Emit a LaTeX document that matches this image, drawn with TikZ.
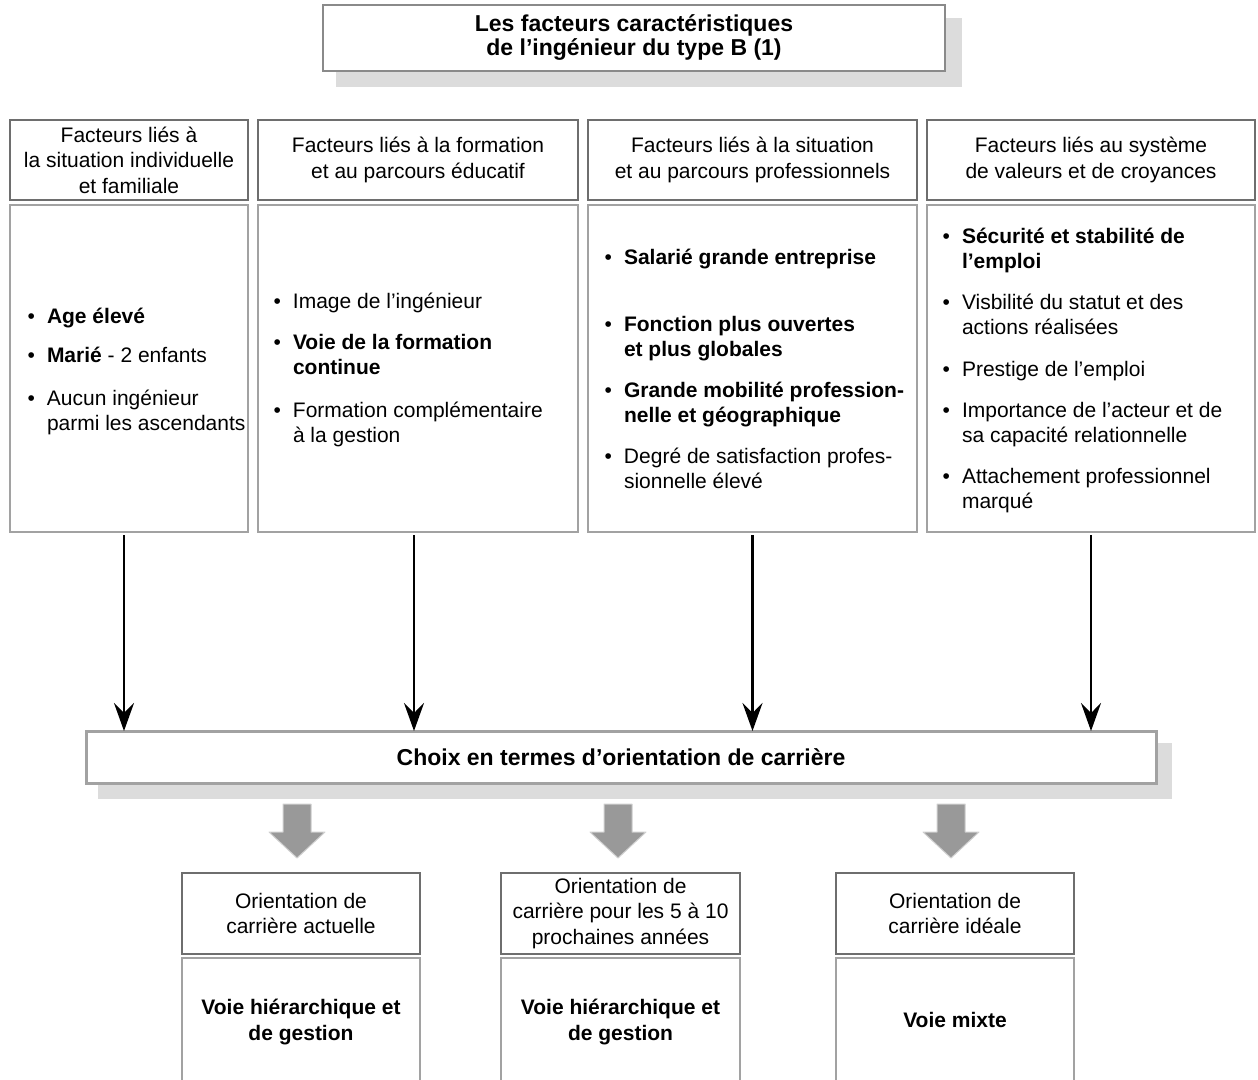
\documentclass[tikz,border=0pt]{standalone}
\usepackage{fontspec}
\setmainfont{Liberation Sans}
\usetikzlibrary{arrows.meta,calc}
\definecolor{hdrline}{HTML}{6E6E6E}
\definecolor{bodyline}{HTML}{A2A2A2}
\definecolor{titleline}{HTML}{8A8A8A}
\definecolor{shadowgray}{HTML}{DCDCDC}
\definecolor{blockgray}{HTML}{999999}
\definecolor{blockedge}{HTML}{CFCFCF}
\newcommand\mybul[4]{\node[itm,anchor=base west] (#1) at (#2,#3) {\llap{•\hspace{12pt}}\begin{tabular}[t]{@{}l@{}}#4\end{tabular}};}
\begin{document}
\begin{tikzpicture}[x=1pt,y=-1pt,
  every node/.style={inner sep=0pt,outer sep=0pt},
  txt/.style={font=\fontsize{21}{25.5}\selectfont},
  hdrbox/.style={draw=hdrline,line width=2.5pt,fill=white,anchor=north west,align=center,txt},
  bodybox/.style={draw=bodyline,line width=2.5pt,fill=white,anchor=north west,align=center,txt},
  titlebox/.style={draw=titleline,line width=2.5pt,fill=white,anchor=north west,align=center,font=\bfseries\fontsize{23}{24}\selectfont},
  choicebox/.style={draw=bodyline,line width=3pt,fill=white,anchor=north west,align=center,font=\bfseries\fontsize{23}{25}\selectfont},
  itm/.style={txt,align=left},
  arr/.style={draw=black,line width=2.4pt,-{Stealth[length=28pt,width=20pt,inset=10pt]}},
  blk/.style={fill=blockgray,draw=blockedge,line width=1pt,line join=round}
]
\useasboundingbox (0,0) rectangle (1258,1079);
\clip (0,0) rectangle (1258,1079);

% title
\fill[shadowgray] (336,18) rectangle (962,87);
\node[titlebox,minimum width=622pt,minimum height=66pt] (title) at (323,5)
  {Les facteurs caractéristiques\\de l’ingénieur du type B (1)};

% column headers
\node[hdrbox,minimum width=238pt,minimum height=80pt] (h1) at (10,120)
  {Facteurs liés à\\la situation individuelle\\et familiale};
\node[hdrbox,minimum width=320pt,minimum height=80pt] (h2) at (258,120)
  {Facteurs liés à la formation\\et au parcours éducatif};
\node[hdrbox,minimum width=329pt,minimum height=80pt] (h3) at (588,120)
  {Facteurs liés à la situation\\et au parcours professionnels};
\node[hdrbox,minimum width=328pt,minimum height=80pt] (h4) at (927,120)
  {Facteurs liés au système\\de valeurs et de croyances};

% column bodies
\node[bodybox,minimum width=238pt,minimum height=327pt] (b1) at (10,205) {};
\node[bodybox,minimum width=320pt,minimum height=327pt] (b2) at (258,205) {};
\node[bodybox,minimum width=329pt,minimum height=327pt] (b3) at (588,205) {};
\node[bodybox,minimum width=328pt,minimum height=327pt] (b4) at (927,205) {};

% column 1 items
\mybul{a1}{47}{323}{\textbf{Age élevé}}
\mybul{a2}{47}{362}{\textbf{Marié} - 2 enfants}
\mybul{a3}{47}{405}{Aucun ingénieur\\parmi les ascendants}

% column 2 items
\mybul{c1}{293}{308}{Image de l’ingénieur}
\mybul{c2}{293}{349}{\textbf{Voie de la formation}\\\textbf{continue}}
\mybul{c3}{293}{417}{Formation complémentaire\\à la gestion}

% column 3 items
\mybul{d1}{624}{264}{\textbf{Salarié grande entreprise}}
\mybul{d2}{624}{331}{\textbf{Fonction plus ouvertes}\\\textbf{et plus globales}}
\mybul{d3}{624}{397}{\textbf{Grande mobilité profession-}\\\textbf{nelle et géographique}}
\mybul{d4}{624}{463}{Degré de satisfaction profes-\\sionnelle élevé}

% column 4 items
\mybul{e1}{962}{243}{\textbf{Sécurité et stabilité de}\\\textbf{l’emploi}}
\mybul{e2}{962}{309}{Visbilité du statut et des\\actions réalisées}
\mybul{e3}{962}{376}{Prestige de l’emploi}
\mybul{e4}{962}{417}{Importance de l’acteur et de\\sa capacité relationnelle}
\mybul{e5}{962}{483}{Attachement professionnel\\marqué}

% choice box
\fill[shadowgray] (98,743) rectangle (1172,799);
\node[choicebox,minimum width=1070pt,minimum height=52pt] (choice) at (86,731)
  {Choix en termes d’orientation de carrière};

% arrows to choice
\draw[arr] ([xshift=-5pt,yshift=-3pt]b1.south) -- ([xshift=-5pt]b1.south |- choice.north);
\draw[arr] ([xshift=-4pt,yshift=-3pt]b2.south) -- ([xshift=-4pt]b2.south |- choice.north);
\draw[arr] ([yshift=-3pt]b3.south) -- (b3.south |- choice.north);
\draw[arr] ([yshift=-3pt]b4.south) -- (b4.south |- choice.north);

% bottom boxes
\node[hdrbox,minimum width=238pt,minimum height=81pt] (o1) at (182,873)
  {Orientation de\\carrière actuelle};
\node[hdrbox,minimum width=239pt,minimum height=81pt] (o2) at (501,873)
  {Orientation de\\carrière pour les 5 à 10\\prochaines années};
\node[hdrbox,minimum width=238pt,minimum height=81pt] (o3) at (836,873)
  {Orientation de\\carrière idéale};

\node[bodybox,minimum width=238pt,minimum height=128pt,font=\bfseries\fontsize{21}{25.5}\selectfont] (v1) at (182,958)
  {Voie hiérarchique et\\de gestion};
\node[bodybox,minimum width=239pt,minimum height=128pt,font=\bfseries\fontsize{21}{25.5}\selectfont] (v2) at (501,958)
  {Voie hiérarchique et\\de gestion};
\node[bodybox,minimum width=238pt,minimum height=124pt,font=\bfseries\fontsize{21}{25.5}\selectfont] (v3) at (836,958)
  {Voie mixte};

% block arrows from choice to orientations
\draw[blk] ([xshift=-4pt]o1.north) ++(-14,-69) -- ++(28,0) -- ++(0,28) -- ++(14,0) -- ++(-28,26) -- ++(-28,-26) -- ++(14,0) -- cycle;
\draw[blk] ([xshift=-2.5pt]o2.north) ++(-14,-69) -- ++(28,0) -- ++(0,28) -- ++(14,0) -- ++(-28,26) -- ++(-28,-26) -- ++(14,0) -- cycle;
\draw[blk] ([xshift=-4pt]o3.north) ++(-14,-69) -- ++(28,0) -- ++(0,28) -- ++(14,0) -- ++(-28,26) -- ++(-28,-26) -- ++(14,0) -- cycle;
\end{tikzpicture}
\end{document}
